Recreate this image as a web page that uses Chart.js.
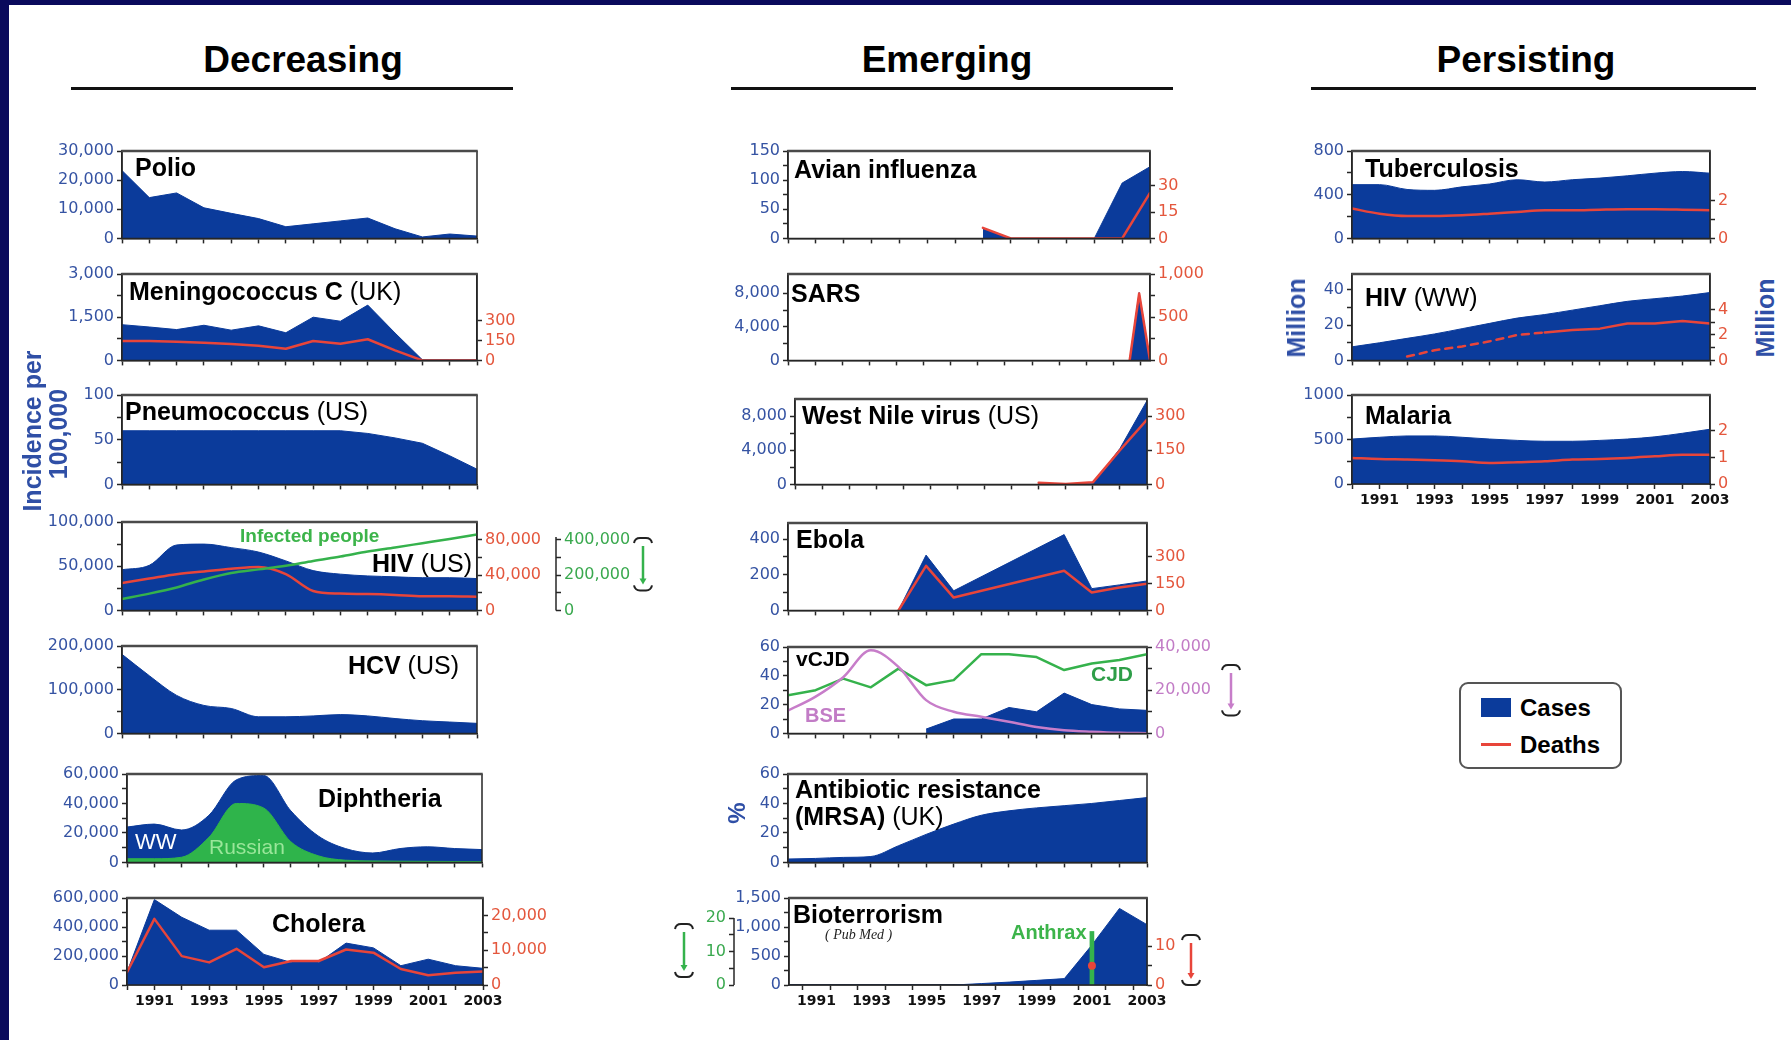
<!DOCTYPE html>
<html lang="en">
<head>
<meta charset="utf-8">
<title>Decreasing, emerging and persisting infectious diseases, 1990–2003</title>
<script src="https://cdn.jsdelivr.net/npm/chart.js@4.4.1/dist/chart.umd.min.js"></script>
<style>
  html, body { margin: 0; padding: 0; background: #fff; }
  #page { position: relative; width: 1791px; height: 1040px; overflow: hidden; background: #fff;
          font-family: 'Liberation Sans', Arial, Helvetica, sans-serif; }
  .edge { position: absolute; background: #0a0a5c; z-index: 10; }
  canvas { position: absolute; }
  .txt { position: absolute; white-space: nowrap; font-weight: bold; font-size: 25px; line-height: 28px;
         color: #000; z-index: 5; transform: translateY(-50%); }
  .txt .n { font-weight: normal; }
  .head { position: absolute; font-size: 37px; font-weight: bold; line-height: 40px; white-space: nowrap;
          transform: translate(-50%, -50%); }
  .rule { position: absolute; height: 3px; background: #111; }
  .vert { position: absolute; white-space: nowrap; font-weight: bold; color: #2f4fa6; line-height: 28px;
          transform: translate(-50%, -50%) rotate(-90deg); z-index: 5; }
  #legend { position: absolute; left: 1459px; top: 682px; width: 159px; height: 83px;
            border: 2px solid #555; border-radius: 9px; background: #fff; z-index: 5; }
  #legend .lt { position: absolute; font-size: 24px; font-weight: bold; line-height: 28px; transform: translateY(-50%); }
</style>
</head>
<body>
<div id="page">
  <div class="edge" style="left:0;top:0;width:9px;height:1040px"></div>
  <div class="edge" style="left:0;top:0;width:1791px;height:5px"></div>

  <div class="head" style="left:303px;top:60px">Decreasing</div>
  <div class="head" style="left:947px;top:60px">Emerging</div>
  <div class="head" style="left:1526px;top:60px">Persisting</div>
  <div class="rule" style="left:71px;top:87px;width:442px"></div>
  <div class="rule" style="left:731px;top:87px;width:442px"></div>
  <div class="rule" style="left:1311px;top:87px;width:445px"></div>

  <!-- axis titles -->
  <div class="vert" style="left:32px;top:431px;font-size:25px">Incidence per</div>
  <div class="vert" style="left:58px;top:434px;font-size:25px">100,000</div>
  <div class="vert" style="left:737px;top:813px;font-size:24px">%</div>
  <div class="vert" style="left:1296px;top:318px;font-size:25px">Million</div>
  <div class="vert" style="left:1765px;top:318px;font-size:25px">Million</div>

  <!-- panel titles: Decreasing -->
  <div class="txt" style="left:135px;top:167px">Polio</div>
  <div class="txt" style="left:129px;top:291px">Meningococcus C<span class="n"> (UK)</span></div>
  <div class="txt" style="left:125px;top:411px">Pneumococcus<span class="n"> (US)</span></div>
  <div class="txt" style="left:240px;top:536px;font-size:19px;color:#3cb44a">Infected people</div>
  <div class="txt" style="left:472px;top:563px;transform:translate(-100%,-50%)">HIV<span class="n"> (US)</span></div>
  <div class="txt" style="left:459px;top:665px;transform:translate(-100%,-50%)">HCV<span class="n"> (US)</span></div>
  <div class="txt" style="left:318px;top:798px">Diphtheria</div>
  <div class="txt" style="left:135px;top:842px;font-size:22px;font-weight:normal;color:#fff">WW</div>
  <div class="txt" style="left:209px;top:847px;font-size:21px;font-weight:normal;color:#9ae69a">Russian</div>
  <div class="txt" style="left:272px;top:923px">Cholera</div>

  <!-- panel titles: Emerging -->
  <div class="txt" style="left:794px;top:169px">Avian influenza</div>
  <div class="txt" style="left:791px;top:293px">SARS</div>
  <div class="txt" style="left:802px;top:415px">West Nile virus<span class="n"> (US)</span></div>
  <div class="txt" style="left:796px;top:539px">Ebola</div>
  <div class="txt" style="left:796px;top:659px;font-size:21px">vCJD</div>
  <div class="txt" style="left:1091px;top:674px;font-size:21px;color:#2e9e48">CJD</div>
  <div class="txt" style="left:805px;top:715px;font-size:20px;color:#c27cc6">BSE</div>
  <div class="txt" style="left:795px;top:789px">Antibiotic resistance</div>
  <div class="txt" style="left:795px;top:816px">(MRSA)<span class="n"> (UK)</span></div>
  <div class="txt" style="left:793px;top:914px">Bioterrorism</div>
  <div class="txt" style="left:825px;top:935px;font-size:14px;font-weight:normal;font-style:italic;font-family:'Liberation Serif','DejaVu Serif',serif;color:#222">( Pub Med )</div>
  <div class="txt" style="left:1011px;top:932px;font-size:20px;color:#3cb44a">Anthrax</div>

  <!-- panel titles: Persisting -->
  <div class="txt" style="left:1365px;top:168px">Tuberculosis</div>
  <div class="txt" style="left:1365px;top:297px">HIV<span class="n"> (WW)</span></div>
  <div class="txt" style="left:1365px;top:415px">Malaria</div>

  <div id="legend">
    <div style="position:absolute;left:20px;top:14px;width:30px;height:19px;background:#0b3b9b"></div>
    <div class="lt" style="left:59px;top:24px">Cases</div>
    <div style="position:absolute;left:20px;top:59px;width:30px;height:3px;background:#e8453a"></div>
    <div class="lt" style="left:59px;top:61px">Deaths</div>
  </div>
</div>

<script>
// ---------------------------------------------------------------------------
// Data (one value per year unless a series carries its own year list)
// ---------------------------------------------------------------------------
const years = [1990, 1991, 1992, 1993, 1994, 1995, 1996, 1997, 1998, 1999, 2000, 2001, 2002, 2003];
const yearLabels = [1991, 1993, 1995, 1997, 1999, 2001, 2003];

// Decreasing
const polioCases   = [23300, 14000, 15600, 10500, 8600, 6800, 4000, 5000, 6000, 7000, 3300, 500, 1500, 800];
const meningCases  = [1240, 1160, 1070, 1220, 1050, 1200, 960, 1500, 1360, 1920, 950, 20, 20, 20];
const meningDeaths = [146, 146, 140, 132, 124, 110, 88, 146, 126, 159, 76, 0, 0, 0];
const pneumoCases  = [60, 60, 60, 60, 60, 60, 60, 60, 60, 57, 52, 46, 32, 17];
const hivUsCases    = [46000, 51000, 74000, 75000, 71000, 66000, 56000, 45000, 41000, 39000, 38000, 37000, 37000, 36000];
const hivUsDeaths   = [31000, 36000, 41000, 44000, 47000, 49000, 41000, 22000, 19000, 18500, 17500, 16000, 16000, 15500];
const hivUsInfected = [65000, 95000, 130000, 175000, 212000, 232000, 252000, 280000, 305000, 333000, 356000, 380000, 404000, 430000];
const hcvCases     = [181000, 132000, 87000, 64000, 57000, 38000, 38000, 40000, 43000, 40000, 34000, 29000, 26000, 23000];
const diphWorld    = [24000, 26000, 22000, 32000, 56000, 59000, 35000, 18000, 9400, 6400, 9400, 10600, 9400, 8700];
const diphRussian  = [2500, 2500, 3500, 17000, 40000, 37000, 14000, 4500, 1500, 1000, 800, 700, 600, 500];
const choleraCases  = [89000, 589000, 467000, 378000, 378000, 211000, 155000, 155000, 289000, 256000, 133000, 178000, 133000, 115000];
const choleraDeaths = [3700, 19000, 8300, 6500, 10400, 5100, 6900, 6900, 10200, 9300, 4600, 2800, 3500, 3900];

// Emerging
const avianYears  = [1997, 1998, 1999, 2000, 2001, 2002, 2003];
const avianCases  = [18, 0, 0, 0, 0, 95, 123];
const avianDeaths = [6, 0, 0, 0, 0, 0, 26];
const sarsDates   = [2002.6, 2002.95, 2003.35];
const sarsCases   = [0, 8098, 0];
const sarsDeaths  = [0, 774, 0];
const wnvYears    = [1999, 2000, 2001, 2002, 2003];
const wnvCases    = [62, 21, 66, 4200, 9800];
const wnvDeaths   = [7, 2, 9, 150, 285];
const ebolaYears  = [1994, 1995, 1996, 2000, 2001, 2002, 2003];
const ebolaCases  = [0, 310, 110, 425, 122, 143, 165];
const ebolaDeaths = [0, 250, 72, 222, 100, 128, 150];
const bseCases    = [10500, 17000, 26000, 38500, 30800, 15400, 10000, 7700, 5400, 3000, 1500, 800, 300, 100];
const cjdDeaths   = [26.5, 30, 38, 32, 45, 33.5, 37, 55, 55, 53, 44, 48.5, 51, 55];
const vcjdYears   = [1995, 1996, 1997, 1998, 1999, 2000, 2001, 2002, 2003];
const vcjdDeaths  = [3, 10, 10, 18, 15, 28, 20, 17, 16];
const mrsaPercent = [2.3, 2.7, 3.4, 4, 11.3, 19, 26, 32, 35, 37, 38.5, 40, 42, 44];
const bioPapers   = [0, 0, 0, 0, 0, 0, 0, 25, 50, 80, 110, 690, 1320, 1040];
const anthraxYears  = [2001];
const anthraxCases  = [16];
const anthraxDeaths = [5];

// Persisting
const tbCases       = [492, 492, 448, 440, 472, 498, 537, 516, 537, 552, 573, 597, 612, 597];
const tbDeaths      = [1.57, 1.3, 1.18, 1.18, 1.22, 1.3, 1.39, 1.48, 1.48, 1.51, 1.53, 1.53, 1.51, 1.48];
const hivWwCases    = [7.7, 10, 12.5, 15, 18, 21, 24, 26, 28.5, 31, 33.5, 35, 36.5, 38.5];
const hivWwDeathYears = [1992, 1993, 1994, 1995, 1996, 1997, 1998, 1999, 2000, 2001, 2002, 2003];
const hivWwDeaths   = [0.3, 0.8, 1.1, 1.5, 2.0, 2.2, 2.4, 2.5, 2.9, 2.9, 3.1, 2.9];
const malariaCases  = [505, 525, 540, 540, 525, 505, 490, 480, 480, 490, 505, 530, 570, 615];
const malariaDeaths = [0.98, 0.94, 0.92, 0.89, 0.85, 0.79, 0.82, 0.85, 0.92, 0.94, 0.98, 1.04, 1.1, 1.1];

// Tick values (labelled / unlabelled)
const polioTicks = [0, 10000, 20000, 30000];
const meningTicks = [0, 1500, 3000], meningMinor = [750, 2250];
const meningDeathTicks = [0, 150, 300];
const pneumoTicks = [0, 50, 100], pneumoMinor = [25, 75];
const hivUsTicks = [0, 50000, 100000], hivUsMinor = [25000, 75000];
const hivUsDeathTicks = [0, 40000, 80000], hivUsDeathMinor = [20000, 60000];
const hivUsInfectedTicks = [0, 200000, 400000], hivUsInfectedMinor = [100000, 300000];
const hcvTicks = [0, 100000, 200000], hcvMinor = [50000, 150000];
const diphTicks = [0, 20000, 40000, 60000], diphMinor = [10000, 30000, 50000];
const choleraTicks = [0, 200000, 400000, 600000], choleraMinor = [100000, 300000, 500000];
const choleraDeathTicks = [0, 10000, 20000], choleraDeathMinor = [5000, 15000];
const avianTicks = [0, 50, 100, 150], avianMinor = [25, 75, 125];
const avianDeathTicks = [0, 15, 30];
const sarsTicks = [0, 4000, 8000], sarsMinor = [2000, 6000];
const sarsDeathTicks = [0, 500, 1000], sarsDeathMinor = [250, 750];
const wnvTicks = [0, 4000, 8000], wnvMinor = [2000, 6000];
const wnvDeathTicks = [0, 150, 300];
const ebolaTicks = [0, 200, 400], ebolaMinor = [100, 300];
const ebolaDeathTicks = [0, 150, 300];
const cjdTicks = [0, 20, 40, 60], cjdMinor = [10, 30, 50];
const bseTicks = [0, 20000, 40000], bseMinor = [10000, 30000];
const mrsaTicks = [0, 20, 40, 60], mrsaMinor = [10, 30, 50];
const bioTicks = [0, 500, 1000, 1500], bioMinor = [250, 750, 1250];
const anthraxTicks = [0, 10, 20], anthraxMinor = [5, 15];
const anthraxDeathTicks = [0, 10], anthraxDeathMinor = [5];
const tbTicks = [0, 400, 800], tbMinor = [200, 600];
const tbDeathTicks = [0, 2], tbDeathMinor = [1];
const hivWwTicks = [0, 20, 40], hivWwMinor = [10, 30];
const hivWwDeathTicks = [0, 2, 4], hivWwDeathMinor = [1, 3];
const malariaTicks = [0, 500, 1000], malariaMinor = [250, 750];
const malariaDeathTicks = [0, 1, 2];

// ---------------------------------------------------------------------------
// Styling
// ---------------------------------------------------------------------------
const CASE_BLUE = '#0b3b9b';
const DEATH_RED = '#e8453a';
const LINE_GREEN = '#35b24c';
const FILL_GREEN = '#2fb44b';
const LINE_PURPLE = '#c77dc9';
const TICK_BLUE = '#3553a3', TICK_RED = '#e4573d', TICK_GREEN = '#3aa94f', TICK_PURPLE = '#c27cc6';
const AXIS_DARK = '#262626';
const TICK_FONT = { family: "'DejaVu Sans', sans-serif", size: 16 };
const YEAR_FONT = { family: "'DejaVu Sans', sans-serif", size: 14, weight: 'bold' };

const page = document.getElementById('page');

function pts(xs, ys) { return xs.map((x, i) => ({ x: x, y: ys[i] })); }

function areaSet(xs, ys, more) {
  return Object.assign({
    type: 'line', data: pts(xs, ys), yAxisID: 'y', fill: 'origin',
    backgroundColor: CASE_BLUE, borderColor: CASE_BLUE, borderWidth: 1,
    pointRadius: 0, tension: 0, order: 5
  }, more || {});
}

function lineSet(xs, ys, color, axis, more) {
  return Object.assign({
    type: 'line', data: pts(xs, ys), yAxisID: axis, fill: false,
    borderColor: color, backgroundColor: color, borderWidth: 2.5,
    pointRadius: 0, tension: 0, order: 1, borderJoinStyle: 'round', borderCapStyle: 'round'
  }, more || {});
}

const SMOOTH = { cubicInterpolationMode: 'monotone' };

function axis(o) {
  const all = o.major.concat(o.minor || []).sort((a, b) => a - b);
  const fmt = v => o.plain ? String(v) : v.toLocaleString('en-US');
  return {
    id: o.id, position: o.position, width: o.width,
    cfg: {
      type: 'linear', position: o.position, min: 0, max: o.max, weight: o.weight || 0,
      afterBuildTicks: s => { s.ticks = all.map(v => ({ value: v })); },
      afterFit: s => { s.width = o.width; },
      ticks: {
        autoSkip: false, padding: 3, color: o.color || TICK_BLUE, font: TICK_FONT,
        callback: v => o.major.includes(v) ? fmt(v) : ''
      },
      grid: { drawOnChartArea: false, drawTicks: true, tickLength: 5, tickWidth: 1.5, tickColor: AXIS_DARK, color: AXIS_DARK },
      border: { display: o.border !== false, color: AXIS_DARK, width: 1.5 }
    }
  };
}

function xAxis(p) {
  return {
    type: 'linear', min: 1990, max: p.xMax || 2003, offset: false,
    afterBuildTicks: s => { s.ticks = years.map(v => ({ value: v })); },
    afterFit: s => { s.height = p.years ? 30 : 10; },
    ticks: {
      autoSkip: false, maxRotation: 0, minRotation: 0, padding: 3, color: '#111', font: YEAR_FONT,
      callback: v => (p.years && yearLabels.includes(v)) ? String(v) : ''
    },
    grid: { drawOnChartArea: false, drawTicks: true, tickLength: 5, tickWidth: 1.5, tickColor: AXIS_DARK, color: AXIS_DARK },
    border: { display: true, color: AXIS_DARK, width: 1.5 }
  };
}

// box outline drawn over the data
const framePlugin = {
  id: 'frame',
  afterDraw(chart) {
    const ctx = chart.ctx, a = chart.chartArea;
    ctx.save();
    ctx.strokeStyle = AXIS_DARK;
    ctx.lineWidth = 1.5;
    ctx.beginPath();
    ctx.moveTo(a.left, a.top); ctx.lineTo(a.left, a.bottom); ctx.lineTo(a.right, a.bottom); ctx.lineTo(a.right, a.top);
    ctx.stroke();
    ctx.strokeStyle = '#4a4a4a';
    ctx.lineWidth = 2.5;
    ctx.beginPath(); ctx.moveTo(a.left - 0.75, a.top); ctx.lineTo(a.right + 0.75, a.top); ctx.stroke();
    ctx.restore();
  }
};

// axis line that only spans part of an extra scale
function spine(chart, id, from, to) {
  const s = chart.scales[id], ctx = chart.ctx;
  const x = s.position === 'left' ? s.right : s.left;
  ctx.save();
  ctx.strokeStyle = AXIS_DARK; ctx.lineWidth = 1.5;
  ctx.beginPath(); ctx.moveTo(x, s.getPixelForValue(from)); ctx.lineTo(x, s.getPixelForValue(to)); ctx.stroke();
  ctx.restore();
}

// "which axis" marker: capped bracket with a coloured arrow
function bracket(ctx, x, y1, y2, color) {
  ctx.save();
  ctx.strokeStyle = '#222'; ctx.lineWidth = 2;
  ctx.beginPath();
  ctx.moveTo(x - 9, y1 + 5); ctx.quadraticCurveTo(x - 8, y1, x - 3, y1); ctx.lineTo(x + 3, y1); ctx.quadraticCurveTo(x + 8, y1, x + 9, y1 + 5);
  ctx.stroke();
  ctx.beginPath();
  ctx.moveTo(x - 9, y2 - 5); ctx.quadraticCurveTo(x - 8, y2, x - 3, y2); ctx.lineTo(x + 3, y2); ctx.quadraticCurveTo(x + 8, y2, x + 9, y2 - 5);
  ctx.stroke();
  ctx.strokeStyle = color; ctx.fillStyle = color; ctx.lineWidth = 2.5;
  ctx.beginPath(); ctx.moveTo(x, y1 + 8); ctx.lineTo(x, y2 - 10); ctx.stroke();
  ctx.beginPath(); ctx.moveTo(x - 3.5, y2 - 12); ctx.lineTo(x + 3.5, y2 - 12); ctx.lineTo(x, y2 - 6); ctx.closePath(); ctx.fill();
  ctx.restore();
}

function panel(p) {
  const leftW = p.axes.filter(a => a.position === 'left').reduce((s, a) => s + a.width, 0);
  const rightW = p.axes.filter(a => a.position === 'right').reduce((s, a) => s + a.width, 0);
  const padL = p.padL !== undefined ? p.padL : 4;
  const padR = p.padR !== undefined ? p.padR : (rightW ? 6 : 14);
  const padT = 14, padB = 2;
  const xH = p.years ? 30 : 10;
  const boxW = p.box.r - p.box.l, boxH = p.box.b - p.box.t;
  const left = p.box.l - leftW - padL, top = p.box.t - padT;
  const w = boxW + leftW + rightW + padL + padR, h = boxH + padT + xH + padB;

  const cv = document.createElement('canvas');
  cv.width = w; cv.height = h;
  cv.style.left = left + 'px'; cv.style.top = top + 'px';
  cv.style.width = w + 'px'; cv.style.height = h + 'px';
  page.appendChild(cv);

  const scales = { x: xAxis(p) };
  p.axes.forEach(a => { scales[a.id] = a.cfg; });

  new Chart(cv, {
    type: 'line',
    data: { datasets: p.datasets },
    options: {
      responsive: false, animation: false, devicePixelRatio: 1, events: [],
      layout: { padding: { left: padL, right: padR, top: padT, bottom: padB } },
      plugins: { legend: { display: false }, tooltip: { enabled: false } },
      scales: scales
    },
    plugins: [framePlugin, { id: 'deco', afterDraw: c => { if (p.deco) p.deco(c); } }]
  });
}

// ---------------------------------------------------------------------------
// Decreasing
// ---------------------------------------------------------------------------
panel({
  box: { l: 122, t: 151, r: 477, b: 239 },
  axes: [axis({ id: 'y', position: 'left', width: 80, max: 30000, major: polioTicks })],
  datasets: [areaSet(years, polioCases)]
});

panel({
  box: { l: 122, t: 274, r: 477, b: 361 },
  axes: [
    axis({ id: 'y', position: 'left', width: 80, max: 3000, major: meningTicks, minor: meningMinor }),
    axis({ id: 'y2', position: 'right', width: 50, max: 650, major: meningDeathTicks, color: TICK_RED })
  ],
  datasets: [lineSet(years, meningDeaths, DEATH_RED, 'y2'), areaSet(years, meningCases)]
});

panel({
  box: { l: 122, t: 395, r: 477, b: 485 },
  axes: [axis({ id: 'y', position: 'left', width: 80, max: 100, major: pneumoTicks, minor: pneumoMinor })],
  datasets: [areaSet(years, pneumoCases)]
});

panel({
  box: { l: 122, t: 522, r: 477, b: 611 }, padR: 30,
  axes: [
    axis({ id: 'y', position: 'left', width: 80, max: 100000, major: hivUsTicks, minor: hivUsMinor }),
    axis({ id: 'y2', position: 'right', width: 79, max: 100000, major: hivUsDeathTicks, minor: hivUsDeathMinor, color: TICK_RED }),
    axis({ id: 'y3', position: 'right', width: 75, weight: 1, max: 500000, major: hivUsInfectedTicks, minor: hivUsInfectedMinor, color: TICK_GREEN, border: false })
  ],
  datasets: [
    lineSet(years, hivUsInfected, LINE_GREEN, 'y3', Object.assign({ order: 1 }, SMOOTH)),
    lineSet(years, hivUsDeaths, DEATH_RED, 'y2', Object.assign({ order: 2 }, SMOOTH)),
    areaSet(years, hivUsCases, SMOOTH)
  ],
  deco: c => {
    spine(c, 'y3', 0, 415000);
    bracket(c.ctx, c.scales.y3.right + 12, c.chartArea.top + 16, c.chartArea.bottom - 20, LINE_GREEN);
  }
});

panel({
  box: { l: 122, t: 646, r: 477, b: 734 },
  axes: [axis({ id: 'y', position: 'left', width: 80, max: 200000, major: hcvTicks, minor: hcvMinor })],
  datasets: [areaSet(years, hcvCases, SMOOTH)]
});

panel({
  box: { l: 127, t: 774, r: 482, b: 863 },
  axes: [axis({ id: 'y', position: 'left', width: 80, max: 60000, major: diphTicks, minor: diphMinor })],
  datasets: [
    areaSet(years, diphRussian, Object.assign({ backgroundColor: FILL_GREEN, borderColor: FILL_GREEN, order: 1 }, SMOOTH)),
    areaSet(years, diphWorld, Object.assign({ order: 2 }, SMOOTH))
  ]
});

panel({
  box: { l: 127, t: 898, r: 483, b: 985 }, years: true,
  axes: [
    axis({ id: 'y', position: 'left', width: 80, max: 600000, major: choleraTicks, minor: choleraMinor }),
    axis({ id: 'y2', position: 'right', width: 75, max: 25000, major: choleraDeathTicks, minor: choleraDeathMinor, color: TICK_RED })
  ],
  datasets: [lineSet(years, choleraDeaths, DEATH_RED, 'y2'), areaSet(years, choleraCases)]
});

// ---------------------------------------------------------------------------
// Emerging
// ---------------------------------------------------------------------------
panel({
  box: { l: 788, t: 151, r: 1150, b: 239 },
  axes: [
    axis({ id: 'y', position: 'left', width: 60, max: 150, major: avianTicks, minor: avianMinor }),
    axis({ id: 'y2', position: 'right', width: 40, max: 50, major: avianDeathTicks, color: TICK_RED })
  ],
  datasets: [lineSet(avianYears, avianDeaths, DEATH_RED, 'y2'), areaSet(avianYears, avianCases)]
});

panel({
  box: { l: 788, t: 274, r: 1150, b: 361 }, xMax: 2003.35,
  axes: [
    axis({ id: 'y', position: 'left', width: 60, max: 10300, major: sarsTicks, minor: sarsMinor }),
    axis({ id: 'y2', position: 'right', width: 60, max: 1000, major: sarsDeathTicks, minor: sarsDeathMinor, color: TICK_RED })
  ],
  datasets: [lineSet(sarsDates, sarsDeaths, DEATH_RED, 'y2'), areaSet(sarsDates, sarsCases)]
});

panel({
  box: { l: 795, t: 399, r: 1147, b: 485 },
  axes: [
    axis({ id: 'y', position: 'left', width: 60, max: 10000, major: wnvTicks, minor: wnvMinor }),
    axis({ id: 'y2', position: 'right', width: 45, max: 375, major: wnvDeathTicks, color: TICK_RED })
  ],
  datasets: [lineSet(wnvYears, wnvDeaths, DEATH_RED, 'y2'), areaSet(wnvYears, wnvCases)]
});

panel({
  box: { l: 788, t: 523, r: 1147, b: 611 },
  axes: [
    axis({ id: 'y', position: 'left', width: 60, max: 490, major: ebolaTicks, minor: ebolaMinor }),
    axis({ id: 'y2', position: 'right', width: 45, max: 490, major: ebolaDeathTicks, color: TICK_RED })
  ],
  datasets: [lineSet(ebolaYears, ebolaDeaths, DEATH_RED, 'y2'), areaSet(ebolaYears, ebolaCases)]
});

panel({
  box: { l: 788, t: 647, r: 1147, b: 734 }, padR: 32,
  axes: [
    axis({ id: 'y', position: 'left', width: 60, max: 60, major: cjdTicks, minor: cjdMinor }),
    axis({ id: 'y2', position: 'right', width: 70, max: 40000, major: bseTicks, minor: bseMinor, color: TICK_PURPLE })
  ],
  datasets: [
    lineSet(years, bseCases, LINE_PURPLE, 'y2', Object.assign({ order: 1 }, SMOOTH)),
    lineSet(years, cjdDeaths, LINE_GREEN, 'y', { order: 2 }),
    areaSet(vcjdYears, vcjdDeaths)
  ],
  deco: c => bracket(c.ctx, c.scales.y2.right + 14, c.chartArea.top + 18, c.chartArea.bottom - 18, LINE_PURPLE)
});

panel({
  box: { l: 788, t: 774, r: 1147, b: 863 },
  axes: [axis({ id: 'y', position: 'left', width: 60, max: 60, major: mrsaTicks, minor: mrsaMinor })],
  datasets: [areaSet(years, mrsaPercent, SMOOTH)]
});

panel({
  box: { l: 789, t: 898, r: 1147, b: 985 }, years: true, padL: 30, padR: 26,
  axes: [
    axis({ id: 'y', position: 'left', width: 55, max: 1500, major: bioTicks, minor: bioMinor }),
    axis({ id: 'y3', position: 'left', width: 32, weight: 1, max: 26, major: anthraxTicks, minor: anthraxMinor, color: TICK_GREEN, border: false }),
    axis({ id: 'y2', position: 'right', width: 35, max: 22.5, major: anthraxDeathTicks, minor: anthraxDeathMinor, color: TICK_RED })
  ],
  datasets: [
    { type: 'line', data: pts(anthraxYears, anthraxDeaths), yAxisID: 'y2', showLine: false,
      pointRadius: 4, pointBackgroundColor: DEATH_RED, pointBorderWidth: 0, order: 0 },
    { type: 'bar', data: pts(anthraxYears, anthraxCases), yAxisID: 'y3', barThickness: 4,
      backgroundColor: LINE_GREEN, borderWidth: 0, order: 1 },
    areaSet(years, bioPapers)
  ],
  deco: c => {
    spine(c, 'y3', 0, 20);
    bracket(c.ctx, c.scales.y3.left - 18, c.chartArea.top + 26, c.chartArea.bottom - 8, LINE_GREEN);
    bracket(c.ctx, c.scales.y2.right + 9, c.chartArea.top + 37, c.chartArea.bottom, DEATH_RED);
  }
});

// ---------------------------------------------------------------------------
// Persisting
// ---------------------------------------------------------------------------
panel({
  box: { l: 1352, t: 151, r: 1710, b: 239 },
  axes: [
    axis({ id: 'y', position: 'left', width: 50, max: 800, major: tbTicks, minor: tbMinor, plain: true }),
    axis({ id: 'y2', position: 'right', width: 30, max: 4.6, major: tbDeathTicks, minor: tbDeathMinor, color: TICK_RED })
  ],
  datasets: [lineSet(years, tbDeaths, DEATH_RED, 'y2', SMOOTH), areaSet(years, tbCases, SMOOTH)]
});

panel({
  box: { l: 1352, t: 274, r: 1710, b: 361 },
  axes: [
    axis({ id: 'y', position: 'left', width: 50, max: 49, major: hivWwTicks, minor: hivWwMinor }),
    axis({ id: 'y2', position: 'right', width: 30, max: 6.8, major: hivWwDeathTicks, minor: hivWwDeathMinor, color: TICK_RED })
  ],
  datasets: [
    lineSet(hivWwDeathYears, hivWwDeaths, DEATH_RED, 'y2', {
      segment: { borderDash: ctx => ctx.p1.parsed.x <= 1997 ? [7, 6] : undefined }
    }),
    areaSet(years, hivWwCases, SMOOTH)
  ]
});

panel({
  box: { l: 1352, t: 395, r: 1710, b: 484 }, years: true,
  axes: [
    axis({ id: 'y', position: 'left', width: 50, max: 1000, major: malariaTicks, minor: malariaMinor, plain: true }),
    axis({ id: 'y2', position: 'right', width: 30, max: 3.34, major: malariaDeathTicks, color: TICK_RED })
  ],
  datasets: [lineSet(years, malariaDeaths, DEATH_RED, 'y2', SMOOTH), areaSet(years, malariaCases, SMOOTH)]
});
</script>
</body>
</html>
